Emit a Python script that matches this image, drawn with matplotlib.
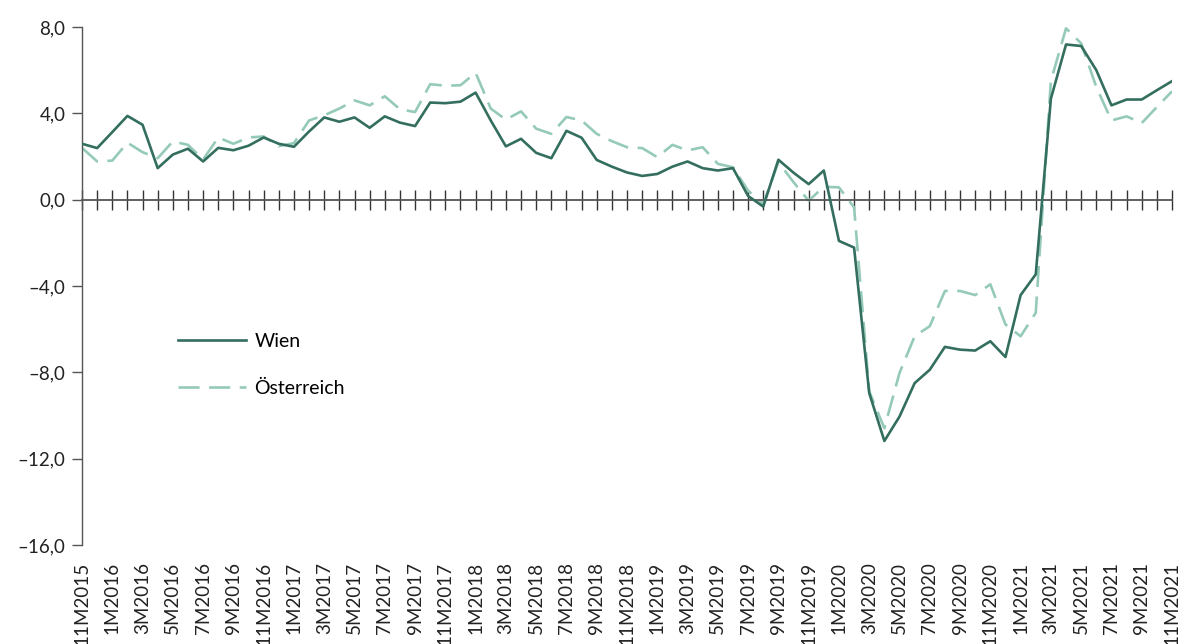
import matplotlib
matplotlib.use("Agg")
import matplotlib.pyplot as plt
import numpy as np

plt.rcParams['font.family'] = ['Lato', 'DejaVu Sans']

# Month labels 11M2015 .. 11M2021
months = []
m, y = 11, 2015
for _ in range(73):
    months.append(f"{m}M{y}")
    m += 1
    if m > 12:
        m, y = 1, y + 1

wien = [2.59, 2.39, 3.13, 3.88, 3.47, 1.46, 2.09, 2.36, 1.77, 2.40,
        2.29, 2.50, 2.88, 2.59, 2.45, 3.16, 3.81, 3.61, 3.81, 3.33,
        3.86, 3.57, 3.41, 4.50, 4.47, 4.54, 4.96, 3.67, 2.47, 2.82,
        2.17, 1.92, 3.19, 2.87, 1.84, 1.53, 1.26, 1.10, 1.19, 1.53,
        1.77, 1.46, 1.35, 1.46, 0.17, -0.32, 1.85, 1.25, 0.72, 1.35,
        -1.91, -2.22, -8.96, -11.18, -10.05, -8.50, -7.88, -6.82, -6.95, -6.99,
        -6.56, -7.29, -4.42, -3.46, 4.68, 7.19, 7.12, 6.00, 4.37, 4.64,
        4.64, 5.07, 5.49]

oesterreich = [2.40, 1.77, 1.81, 2.64, 2.20, 1.92, 2.70, 2.54, 1.86, 2.88,
               2.59, 2.88, 2.93, 2.48, 2.62, 3.67, 3.91, 4.22, 4.60, 4.37,
               4.79, 4.19, 4.06, 5.35, 5.28, 5.30, 5.88, 4.22, 3.71, 4.09,
               3.29, 3.05, 3.83, 3.67, 3.05, 2.71, 2.43, 2.39, 1.97, 2.54,
               2.28, 2.43, 1.66, 1.50, 0.42, -0.20, 1.74, 0.81, -0.05, 0.60,
               0.57, -0.36, -8.88, -10.59, -8.03, -6.33, -5.86, -4.23, -4.23, -4.42,
               -3.92, -5.78, -6.33, -5.24, 5.50, 7.94, 7.24, 5.22, 3.67, 3.86,
               3.55, 4.29, 5.02]

y_ticks = [-16, -12, -8, -4, 0, 4, 8]

c_wien = '#336e5e'
c_oe = '#95cab9'

fig = plt.figure(figsize=(11.81, 6.44), dpi=100)
ax = fig.add_axes([82/1181, 1 - 545/644, (1172-82)/1181, (545-27)/644])

x = np.arange(len(months))
ax.plot(x, wien, color=c_wien, lw=1.9, label='Wien', zorder=3)
ax.plot(x, oesterreich, color=c_oe, lw=1.9, dashes=(8, 3.6), label='Österreich', zorder=2)

ax.set_xlim(0, len(months) - 1)
ax.set_ylim(-16, 8)

# y axis
ax.set_yticks(y_ticks)
ax.set_yticklabels([(f"{v:.1f}").replace('.', ',').replace('-', '–') for v in y_ticks])
ax.tick_params(axis='y', direction='out', length=7, width=1, color='#555555',
               labelsize=13.5, labelcolor='#222222', pad=5)

for s in ['top', 'right']:
    ax.spines[s].set_visible(False)
ax.spines['left'].set_color('#555555')
ax.spines['left'].set_linewidth(1)
ax.spines['bottom'].set_position(('data', 0))
ax.spines['bottom'].set_color('#555555')
ax.spines['bottom'].set_linewidth(1.3)

ax.set_xticks(x)
ax.tick_params(axis='x', direction='inout', length=14, width=1, color='#333333',
               labelbottom=False)

sec = ax.secondary_xaxis('bottom')
sec.set_xticks(x[::2])
sec.set_xticklabels(months[::2], rotation=90, fontsize=13.5, color='#222222')
sec.tick_params(length=0, pad=12)
sec.spines['bottom'].set_visible(False)

ax.legend(loc='upper left', bbox_to_anchor=(168/1181, 1 - 323/644),
          bbox_transform=fig.transFigure, frameon=False, fontsize=14,
          handlelength=3.5, labelspacing=1.55, handletextpad=0.45, borderpad=0)

fig.savefig('out.png', dpi=100)
